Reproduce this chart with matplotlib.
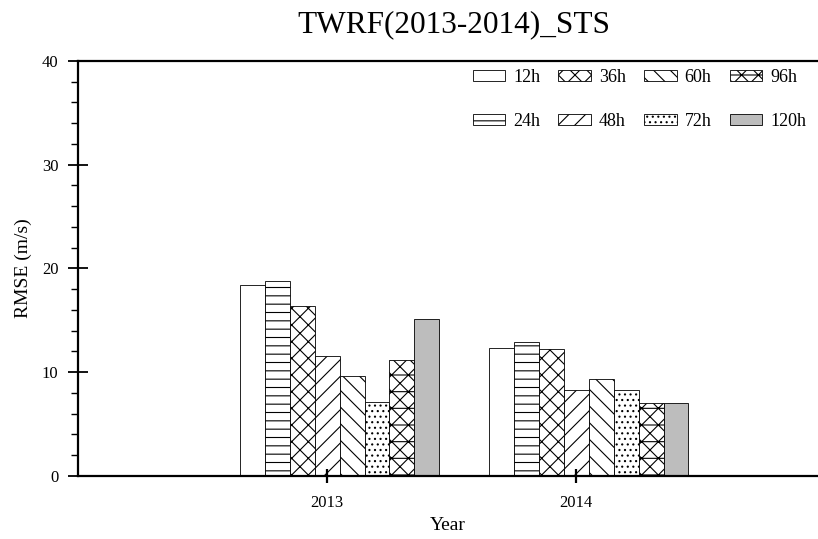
import matplotlib
matplotlib.use("Agg")
import matplotlib.pyplot as plt
from matplotlib.ticker import MultipleLocator

plt.rcParams['font.family'] = ['Liberation Serif', 'DejaVu Serif']
plt.rcParams['hatch.linewidth'] = 0.8

years = [2013, 2014]
leads = ['12h', '24h', '36h', '48h', '60h', '72h', '96h', '120h']
rmse = {
    '12h': [18.4, 12.3],
    '24h': [18.8, 12.9],
    '36h': [16.4, 12.2],
    '48h': [11.6, 8.3],
    '60h': [9.6, 9.3],
    '72h': [7.1, 8.3],
    '96h': [11.2, 7.0],
    '120h': [15.1, 7.0],
}
hatches = ['', '--', 'xx', '//', '\\\\', '...', 'xx-', '']
fills = ['white'] * 7 + ['#bdbdbd']

fig = plt.figure(figsize=(8.18, 5.39), dpi=100)
ax = fig.add_axes([0.0954, 0.1169, 0.9046, 0.77])

width = 0.1
for i, lead in enumerate(leads):
    xs = [y + (i - 3) * width for y in years]
    ax.bar(xs, rmse[lead], width=width, color=fills[i], hatch=hatches[i],
           edgecolor='black', linewidth=0.6, label=lead)

ax.set_xlim(2012.0, 2014.97)
ax.set_ylim(0, 40)
ax.set_xticks(years)
ax.set_xticklabels([str(y) for y in years])
ax.yaxis.set_major_locator(MultipleLocator(10))
ax.yaxis.set_minor_locator(MultipleLocator(2))

for s in ['left', 'bottom', 'top']:
    ax.spines[s].set_linewidth(1.6)
ax.spines['right'].set_visible(False)
ax.tick_params(axis='y', which='major', direction='inout', length=14, width=1.3,
               labelsize=12, pad=7)
ax.tick_params(axis='y', which='minor', direction='out', length=5, width=1.0)
ax.tick_params(axis='x', which='major', direction='inout', length=10, width=1.6,
               labelsize=12, pad=9)

ax.set_xlabel('Year', fontsize=14, labelpad=4)
ax.set_ylabel('RMSE (m/s)', fontsize=14, labelpad=7)
fig.text(0.555, 0.955, 'TWRF(2013-2014)_STS', ha='center', va='center', fontsize=22.5)

ax.legend(ncol=4, loc='upper right', bbox_to_anchor=(1.006, 1.02), frameon=False,
          fontsize=13, handlelength=1.8, handleheight=0.6, labelspacing=1.5,
          columnspacing=1.0, handletextpad=0.45)

fig.savefig('out.png', dpi=100)
